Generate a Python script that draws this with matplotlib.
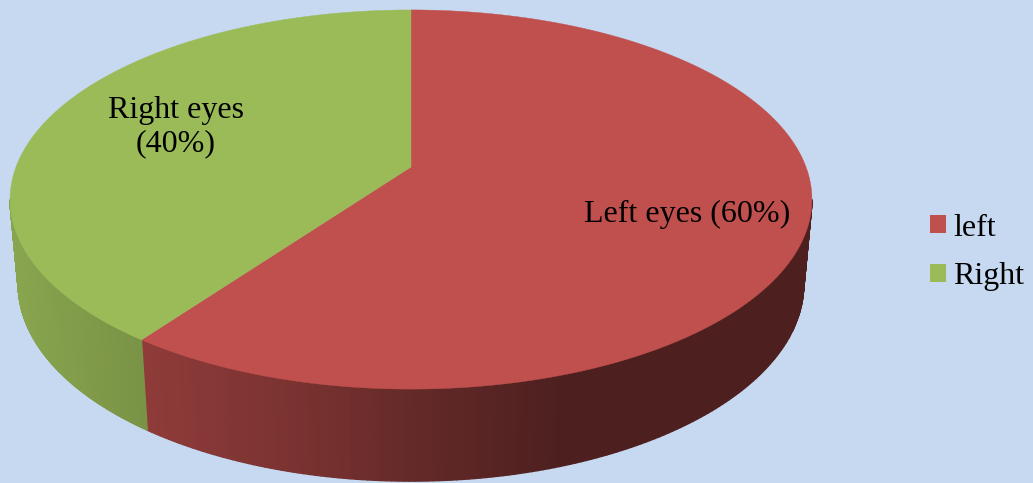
import matplotlib
matplotlib.use("Agg")
import matplotlib.pyplot as plt
from matplotlib.patches import Patch
import numpy as np

categories = ["left", "Right"]
shares = [60, 40]
slice_labels = ["Left eyes (60%)", "Right eyes\n(40%)"]
colors = ["#C0504D", "#9BBB59"]

# side shading against pixel x, one curve per slice
shade_x = [[140, 300, 420, 560, 820], [0, 147]]
shade_f = [[0.745, 0.63, 0.515, 0.40, 0.40], [0.89, 0.78]]

bg = "#C6D9F1"
cx = 411


def top_rim(t):
    w = 1 + 0.1715 * np.cos(t)
    return cx + 395 * np.sin(t) / w, 167 - 184 * np.cos(t) / w


def bottom_rim(t):
    w = 1 + 0.17 * np.cos(t)
    return cx + 387 * np.sin(t) / w, 251 - 191 * np.cos(t) / w


plt.rcParams['font.family'] = ['Liberation Serif']
fig = plt.figure(figsize=(10.33, 4.83), dpi=100, facecolor=bg)
ax = fig.add_axes([0, 0, 1, 1])
ax.set_xlim(0, 1033)
ax.set_ylim(483, 0)
ax.axis("off")

edges = np.cumsum([0] + shares) / sum(shares) * 2 * np.pi
limit = np.arccos(-0.1715)

for i in range(len(shares)):
    # outer side, only the part that faces the viewer
    a = max(edges[i], limit)
    b = min(edges[i + 1], 2 * np.pi - limit)
    ts = np.linspace(a, b, 160)
    for t0, t1 in zip(ts[:-1], ts[1:]):
        x0, y0 = top_rim(t0)
        x1, y1 = top_rim(t1)
        x2, y2 = bottom_rim(t1)
        x3, y3 = bottom_rim(t0)
        f = np.interp((x0 + x1) / 2, shade_x[i], shade_f[i])
        c = np.array(matplotlib.colors.to_rgb(colors[i])) * f
        ax.fill([x0, x1, x2, x3], [y0, y1, y2, y3], color=c, lw=1.0)

for i in range(len(shares)):
    ts = np.linspace(edges[i], edges[i + 1], 300)
    xs, ys = top_rim(ts)
    ax.fill(np.r_[cx, xs], np.r_[167, ys], color=colors[i], lw=0.3)

ax.text(687, 214, slice_labels[0], fontsize=23, ha="center", va="center", color="black")
ax.text(176, 127, slice_labels[1], fontsize=23, ha="center", va="center", color="black",
        linespacing=1.2)

handles = [Patch(facecolor=c, edgecolor="none") for c in colors]
ax.legend(handles, categories, loc="center left", bbox_to_anchor=(930 / 1033, 1 - 252.5 / 483),
          frameon=False, fontsize=23, handlelength=0.5, handleheight=0.5,
          handletextpad=0.22, labelspacing=0.62, borderpad=0, borderaxespad=0)

fig.savefig("out.png", dpi=100, facecolor=bg)
